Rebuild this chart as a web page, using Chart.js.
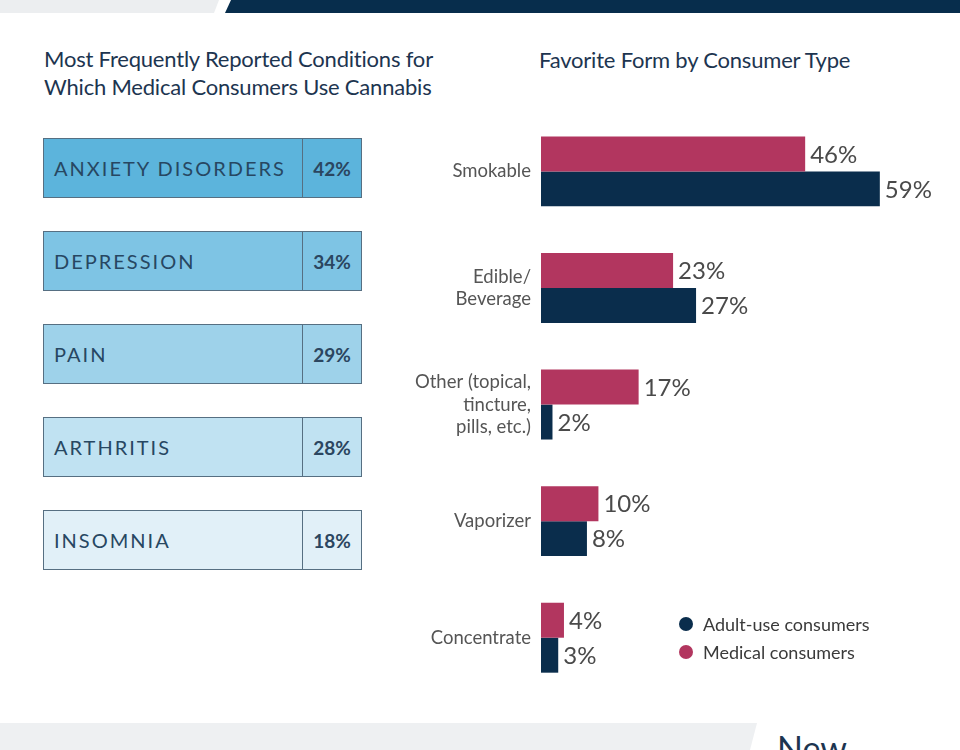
<!DOCTYPE html>
<html>
<head>
<meta charset="utf-8">
<script src="https://cdn.jsdelivr.net/npm/chart.js@4"></script>
<style>
  html, body { margin:0; padding:0; }
  body { width:960px; height:750px; position:relative; background:#ffffff; overflow:hidden; font-family: Lato, "Open Sans", sans-serif; }
  .title { position:absolute; color:#1d3550; font-family: Lato, sans-serif; font-size:22px; line-height:28px; letter-spacing:-0.2px; }
  .box { position:absolute; left:43px; width:319px; height:60px; box-sizing:border-box; border:1.5px solid #566f82; display:flex; }
  .box .lab { width:259px; border-right:1.5px solid #566f82; display:flex; align-items:center; padding-left:10px; box-sizing:border-box; font-size:20px; letter-spacing:2px; color:#274762; font-family: Lato, sans-serif; }
  .box .val { flex:1; display:flex; align-items:center; justify-content:center; font-size:19px; font-weight:700; color:#2b4660; font-family: Lato, sans-serif; }
  #chartWrap { position:absolute; left:380px; top:100px; width:580px; height:620px; }
  .logo { position:absolute; left:777px; top:727px; font-size:34px; color:#1d3550; font-family: "Liberation Sans Narrow", Lato, sans-serif; }
</style>
</head>
<body>
<svg width="960" height="750" style="position:absolute;left:0;top:0">
  <polygon points="0,0 219,0 214,13 0,13" fill="#eceef0"/>
  <polygon points="231,0 960,0 960,13 225,13" fill="#072d4c"/>
  <polygon points="0,723 757,723 750,750 0,750" fill="#eef0f2"/>
</svg>
<div class="title" style="left:44px;top:45px;">Most Frequently Reported Conditions for<br>Which Medical Consumers Use Cannabis</div>
<div class="title" style="left:539px;top:46px;">Favorite Form by Consumer Type</div>
<div id="boxes"></div>
<div id="chartWrap"><canvas id="c" width="580" height="620"></canvas></div>
<div class="logo">New</div>
<script>
// ---- Data ----
const conditionLabels = ['ANXIETY DISORDERS', 'DEPRESSION', 'PAIN', 'ARTHRITIS', 'INSOMNIA'];
const conditionValues = [42, 34, 29, 28, 18];
const formCategories = ['Smokable', ['Edible/', 'Beverage'], ['Other (topical,', 'tincture,', 'pills, etc.)'], 'Vaporizer', 'Concentrate'];
const medicalValues = [46, 23, 17, 10, 4];
const adultValues = [59, 27, 2, 8, 3];
const seriesNames = ['Medical consumers', 'Adult-use consumers'];

// ---- Left panel (table of conditions) ----
const boxFills = ['#5cb4dc', '#7ec4e4', '#9ed2ea', '#c0e2f2', '#e1f0f8'];
const boxTops = [138, 231, 324, 417, 510];
const boxesEl = document.getElementById('boxes');
conditionLabels.forEach((lab, i) => {
  const b = document.createElement('div');
  b.className = 'box';
  b.style.top = boxTops[i] + 'px';
  b.style.background = boxFills[i];
  b.innerHTML = '<div class="lab">' + lab + '</div><div class="val">' + conditionValues[i] + '%</div>';
  boxesEl.appendChild(b);
});

// ---- Right chart ----
const colMedical = '#b2365f';
const colAdult = '#0a2d4c';

const valueLabels = {
  id: 'valueLabels',
  afterDatasetsDraw(chart) {
    const ctx = chart.ctx;
    ctx.save();
    ctx.font = '24px Lato, sans-serif';
    ctx.fillStyle = '#4a4a4a';
    ctx.textAlign = 'left';
    ctx.textBaseline = 'middle';
    chart.data.datasets.forEach((ds, di) => {
      const meta = chart.getDatasetMeta(di);
      meta.data.forEach((el, i) => {
        ctx.fillText(ds.data[i] + '%', el.x + 5, el.y + 1);
      });
    });
    ctx.restore();
  }
};

const customLegend = {
  id: 'customLegend',
  afterDraw(chart) {
    const ctx = chart.ctx;
    ctx.save();
    const items = [
      { name: seriesNames[1], color: colAdult },
      { name: seriesNames[0], color: colMedical }
    ];
    ctx.font = '18px Lato, sans-serif';
    ctx.textBaseline = 'middle';
    ctx.textAlign = 'left';
    items.forEach((it, i) => {
      const y = 524 + i * 28;
      ctx.beginPath();
      ctx.fillStyle = it.color;
      ctx.arc(306, y, 7, 0, Math.PI * 2);
      ctx.fill();
      ctx.fillStyle = '#3a3a3a';
      ctx.fillText(it.name, 323, y + 1);
    });
    ctx.restore();
  }
};

new Chart(document.getElementById('c'), {
  type: 'bar',
  data: {
    labels: formCategories,
    datasets: [
      { label: seriesNames[0], data: medicalValues, backgroundColor: colMedical, borderWidth: 0, categoryPercentage: 0.6, barPercentage: 1.0 },
      { label: seriesNames[1], data: adultValues, backgroundColor: colAdult, borderWidth: 0, categoryPercentage: 0.6, barPercentage: 1.0 }
    ]
  },
  options: {
    indexAxis: 'y',
    responsive: false,
    animation: false,
    layout: { padding: { top: 5.65, bottom: 24, left: 0, right: 17 } },
    plugins: { legend: { display: false }, tooltip: { enabled: false } },
    scales: {
      x: { display: false, min: 0, max: 70 },
      y: {
        grid: { display: false },
        border: { display: false },
        ticks: { color: '#555555', font: { family: 'Lato', size: 18.5, lineHeight: 1.2 }, padding: 2 },
        afterFit(scale) { scale.width = 161; }
      }
    }
  },
  plugins: [valueLabels, customLegend]
});
</script>
</body>
</html>
